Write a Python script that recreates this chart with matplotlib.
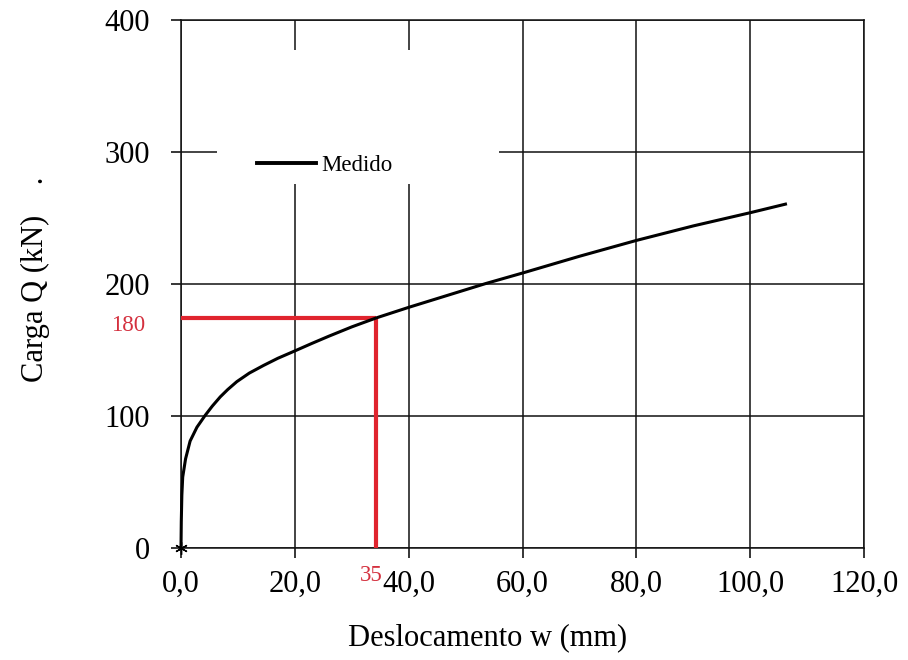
import matplotlib.pyplot as plt
from matplotlib.patches import Rectangle

# -----------------------------------------------------------------------------
# DATA
# -----------------------------------------------------------------------------
desloc_mm = [0.0, 0.05, 0.15, 0.3, 0.8, 1.6, 2.8, 4.25, 5.5, 6.9, 8.2, 9.8,
             12.0, 14.5, 17.0, 20.0, 23.0, 26.0, 30.0, 34.3, 40.0, 46.0,
             53.5, 60.0, 70.0, 80.0, 90.0, 100.0, 106.2]
carga_kN = [0.0, 20.0, 40.0, 53.7, 67.5, 81.0, 91.5, 100.5, 107.5, 114.5,
            120.0, 126.0, 132.5, 138.3, 143.7, 149.3, 155.0, 160.5, 167.5,
            174.3, 182.3, 190.3, 200.3, 208.3, 221.0, 233.0, 244.0, 254.0, 260.5]

# reading for the marked point (red lines)
ponto_w = 34.3
ponto_Q = 174.0
ponto_w_label = "35"
ponto_Q_label = "180"

xticks = [0, 20, 40, 60, 80, 100, 120]
xtick_labels = ["0,0", "20,0", "40,0", "60,0", "80,0", "100,0", "120,0"]
yticks = [0, 100, 200, 300, 400]
ytick_labels = ["0", "100", "200", "300", "400"]

serie_label = "Medido"

# -----------------------------------------------------------------------------
# FIGURE
# -----------------------------------------------------------------------------
plt.rcParams['font.family'] = ['Liberation Serif', 'DejaVu Serif']

fig = plt.figure(figsize=(9.08, 6.6), dpi=100)
ax = fig.add_axes([181/908, 1 - 548/660, (864 - 181)/908, (548 - 20)/660])

ax.set_xlim(0, 120)
ax.set_ylim(0, 400)
ax.set_xticks(xticks)
ax.set_xticklabels(xtick_labels)
ax.set_yticks(yticks)
ax.set_yticklabels(ytick_labels)
ax.tick_params(axis='both', direction='out', length=7.5, width=1.1,
               labelsize=22, color='black')
ax.tick_params(axis='x', pad=8)
ax.tick_params(axis='y', pad=15)

ax.set_axisbelow(True)
ax.grid(True, color='#111111', linewidth=1.1)
for sp in ax.spines.values():
    sp.set_color('#111111')
    sp.set_linewidth(1.1)

# white box behind the legend (hides the grid there)
ax.add_patch(Rectangle((6.3, 276), 55.9 - 6.3, 377 - 276, facecolor='white',
                       edgecolor='none', zorder=1))

# red reading lines
ax.plot([0, ponto_w], [ponto_Q, ponto_Q], color='#e0242e', linewidth=3.0,
        zorder=3, solid_capstyle='butt')
ax.plot([ponto_w, ponto_w], [0, ponto_Q], color='#e0242e', linewidth=3.0,
        zorder=3, solid_capstyle='butt')

# measured curve
ax.plot(desloc_mm, carga_kN, color='black', linewidth=2.2, zorder=4,
        label=serie_label, clip_on=False, solid_joinstyle='round')
ax.plot(desloc_mm[:1], carga_kN[:1], linestyle='none', marker=(6, 2, 0),
        markersize=9, color='black', markeredgewidth=1.0, zorder=5,
        clip_on=False)

leg = ax.legend(loc='center left', bbox_to_anchor=(13.3, 290),
                bbox_transform=ax.transData, frameon=False, fontsize=16.5,
                handlelength=2.6, handletextpad=0.2, borderpad=0,
                borderaxespad=0)
leg.get_lines()[0].set_linewidth(2.8)

# red labels
ax.text(-9.3, 168.6, ponto_Q_label, color='#d4303e', fontsize=16.5,
        ha='center', va='center', clip_on=False)
ax.text(33.4, -20.7, ponto_w_label, color='#d4303e', fontsize=16.5,
        ha='center', va='center', clip_on=False)

# axis titles
fig.text(488/908, 1 - 645/660, "Deslocamento w (mm)", fontsize=22,
         ha='center', va='baseline')
fig.text(35/908, 1 - 279/660, "Carga Q (kN)    .", fontsize=22,
         rotation=90, ha='center', va='center')

fig.savefig("out.png", dpi=100)
